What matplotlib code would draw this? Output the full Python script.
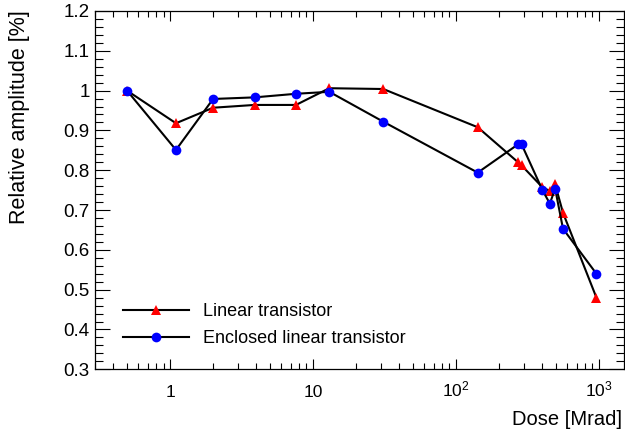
import matplotlib
matplotlib.use('Agg')
import matplotlib.pyplot as plt
import matplotlib.ticker as ticker
import numpy as np

# dose points [Mrad] and relative amplitude
dose_lin = [0.5, 1.1, 2.0, 3.9, 7.6, 13, 31, 142, 272, 288, 403, 454, 494, 561, 961]
amp_lin = [1.0, 0.918, 0.957, 0.964, 0.964, 1.006, 1.004, 0.908, 0.820, 0.812,
           0.757, 0.748, 0.765, 0.693, 0.480]

dose_elt = [0.5, 1.1, 2.0, 3.9, 7.6, 13, 31, 142, 272, 288, 403, 454, 494, 561, 961]
amp_elt = [1.0, 0.851, 0.979, 0.983, 0.992, 0.997, 0.922, 0.794, 0.865, 0.865,
           0.750, 0.716, 0.754, 0.653, 0.540]

x_major = [1, 10, 100, 1000]
x_major_labels = ['1', '10', '$10^{2}$', '$10^{3}$']

plt.rcParams['font.family'] = ['Liberation Sans', 'DejaVu Sans']
plt.rcParams['mathtext.fontset'] = 'custom'
plt.rcParams['mathtext.rm'] = 'Liberation Sans'
plt.rcParams['mathtext.it'] = 'Liberation Sans'
plt.rcParams['font.size'] = 13

fig = plt.figure(figsize=(6.25, 4.34), dpi=100)
ax = fig.add_axes([0.1525, 0.1491, 0.846, 0.8256])

ax.plot(dose_lin, amp_lin, color='black', lw=1.5, marker='^', ms=7.5,
        mfc='red', mec='red', mew=0, label='Linear transistor')
ax.plot(dose_elt, amp_elt, color='black', lw=1.5, marker='o', ms=7,
        mfc='blue', mec='blue', mew=0, label='Enclosed linear transistor')

ax.set_xscale('log')
ax.set_xlim(0.3, 1500)
ax.set_ylim(0.3, 1.2)

ax.xaxis.set_major_locator(ticker.FixedLocator(x_major))
ax.xaxis.set_major_formatter(ticker.FixedFormatter(x_major_labels))
ax.xaxis.set_minor_locator(ticker.LogLocator(base=10, subs=np.arange(2, 10), numticks=20))
ax.xaxis.set_minor_formatter(ticker.NullFormatter())

ax.yaxis.set_major_locator(ticker.MultipleLocator(0.1))
ax.yaxis.set_minor_locator(ticker.MultipleLocator(0.02))
ax.yaxis.set_major_formatter(ticker.FuncFormatter(lambda v, p: '%g' % round(v, 2)))

for sp in ax.spines.values():
    sp.set_linewidth(0.9)

ax.tick_params(axis='both', which='both', direction='in', top=True, right=True, width=0.8)
ax.tick_params(axis='x', which='major', length=7.5, pad=19.7, labelsize=12.5)
ax.tick_params(axis='x', which='minor', length=4)
ax.tick_params(axis='y', which='major', length=11, pad=4, labelsize=13.5)
ax.tick_params(axis='y', which='minor', length=6)

for lab in ax.get_xticklabels():
    lab.set_verticalalignment('baseline')

fig.text(20 / 625, 1 - 10 / 434, 'Relative amplitude [%]', rotation=90,
         ha='center', va='top', fontsize=15.5)
fig.text(622 / 625, 1 - 425 / 434, 'Dose [Mrad]', ha='right', va='baseline', fontsize=14.5)

ax.legend(loc='center left', bbox_to_anchor=(123 / 625, 1 - 325 / 434),
          bbox_transform=fig.transFigure, frameon=False, numpoints=1,
          handlelength=3.65, handletextpad=0.8, borderpad=0, borderaxespad=0,
          labelspacing=0.55, fontsize=13)

fig.savefig('out.png', dpi=100)
